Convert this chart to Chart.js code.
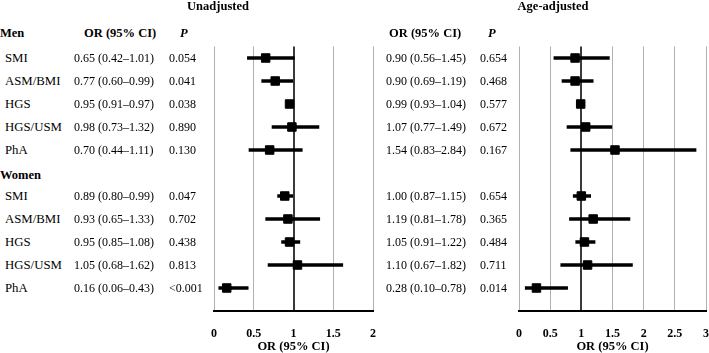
<!DOCTYPE html>
<html>
<head>
<meta charset="utf-8">
<script src="https://cdn.jsdelivr.net/npm/chart.js@4.4.1/dist/chart.umd.min.js"></script>
<style>
  body { margin: 0; background: #fff; }
  #wrap { position: relative; width: 709px; height: 353px; overflow: hidden; font-family: "Liberation Serif", serif; color: #000; }
  canvas { position: absolute; top: 0; }
  .t { position: absolute; white-space: nowrap; font-size: 12px; line-height: 14px; }
  .lab { font-size: 12.8px; }
  .b { font-weight: bold; font-size: 12.5px; }
  .i { font-style: italic; font-weight: bold; font-size: 12.5px; }
</style>
</head>
<body>
<div id="wrap">
  <canvas id="left" width="199" height="353" style="left:194px"></canvas>
  <canvas id="right" width="227" height="353" style="left:499px"></canvas>
</div>
<script>
const measures = ["SMI", "ASM/BMI", "HGS", "HGS/USM", "PhA", "SMI", "ASM/BMI", "HGS", "HGS/USM", "PhA"];
const rowPos = [0, 1, 2, 3, 4, 6, 7, 8, 9, 10];

// unadjusted
const orU = [0.65, 0.77, 0.95, 0.98, 0.70, 0.89, 0.93, 0.95, 1.05, 0.16];
const loU = [0.42, 0.60, 0.91, 0.73, 0.44, 0.80, 0.65, 0.85, 0.68, 0.06];
const hiU = [1.01, 0.99, 0.97, 1.32, 1.11, 0.99, 1.33, 1.08, 1.62, 0.43];
const pU = ["0.054", "0.041", "0.038", "0.890", "0.130", "0.047", "0.702", "0.438", "0.813", "<0.001"];

// age-adjusted
const orA = [0.90, 0.90, 0.99, 1.07, 1.54, 1.00, 1.19, 1.05, 1.10, 0.28];
const loA = [0.56, 0.69, 0.93, 0.77, 0.83, 0.87, 0.81, 0.91, 0.67, 0.10];
const hiA = [1.45, 1.19, 1.04, 1.49, 2.84, 1.15, 1.78, 1.22, 1.82, 0.78];
const pA = ["0.654", "0.468", "0.577", "0.672", "0.167", "0.654", "0.365", "0.484", "0.711", "0.014"];

const xTicksU = [0, 0.5, 1, 1.5, 2];
const xTicksA = [0, 0.5, 1, 1.5, 2, 2.5, 3];

const font = "Liberation Serif";

function forest(id, or, lo, hi, ticks) {
  return new Chart(document.getElementById(id), {
    data: {
      datasets: [
        {
          type: "scatter",
          data: or.map((v, i) => ({ x: v, y: rowPos[i] })),
          pointStyle: "rect",
          pointRadius: 6,
          backgroundColor: "#000",
          borderColor: "#000",
          borderWidth: 1,
          order: 0
        },
        {
          type: "bar",
          indexAxis: "y",
          data: lo.map((v, i) => ({ x: [v, hi[i]], y: rowPos[i] })),
          backgroundColor: "#000",
          barThickness: 3,
          order: 1
        }
      ]
    },
    options: {
      responsive: false,
      animation: false,
      // side padding wider than label overhang + tick padding
      layout: { padding: { left: 20, right: 20, top: 46.5, bottom: 0 } },
      plugins: { legend: { display: false }, tooltip: { enabled: false } },
      scales: {
        x: {
          type: "linear",
          min: 0,
          max: ticks[ticks.length - 1],
          afterBuildTicks: s => { s.ticks = ticks.map(v => ({ value: v })); },
          afterFit: s => { s.height = 42; },
          ticks: {
            color: "#000",
            font: { family: font, size: 12, weight: "bold" },
            padding: 16,
            callback: v => String(v)
          },
          grid: {
            drawTicks: false,
            color: c => (c.tick && c.tick.value === 1 ? "#3a3a3a" : "#b0b0b0"),
            lineWidth: c => (c.tick && c.tick.value === 1 ? 2 : 1)
          },
          border: { color: "#000", width: 2 },
          title: {
            display: true,
            text: "OR (95% CI)",
            color: "#000",
            font: { family: font, size: 12.5, weight: "bold" },
            padding: { top: 0, bottom: -1 }
          }
        },
        y: { type: "linear", min: -0.5, max: 11, reverse: true, offset: false, display: false }
      }
    }
  });
}

const chartU = forest("left", orU, loU, hiU, xTicksU);
const chartA = forest("right", orA, loA, hiA, xTicksA);

const wrap = document.getElementById("wrap");
function txt(s, x, y, cls, center) {
  const d = document.createElement("div");
  d.className = "t " + (cls || "");
  d.textContent = s;
  d.style.left = x + "px";
  d.style.top = (y - 7) + "px";
  if (center) d.style.transform = "translateX(-50%)";
  wrap.appendChild(d);
}

const ys = chartU.scales.y;
const rowY = v => ys.getPixelForValue(v);

const ci = (o, l, h, i) => o[i].toFixed(2) + " (" + l[i].toFixed(2) + "\u2013" + h[i].toFixed(2) + ")";

txt("Unadjusted", 218, 6, "b", true);
txt("Age-adjusted", 553, 6, "b", true);
txt("Men", 0, rowY(-1.1), "b");
txt("Women", 0, rowY(5.1), "b");
txt("OR (95% CI)", 84, rowY(-1.1), "b");
txt("P", 180, rowY(-1.1), "i");
txt("OR (95% CI)", 389, rowY(-1.1), "b");
txt("P", 488, rowY(-1.1), "i");

measures.forEach((m, i) => {
  const y = rowY(rowPos[i]);
  txt(m, 5, y, "lab");
  txt(ci(orU, loU, hiU, i), 74, y);
  txt(pU[i], 169, y);
  txt(ci(orA, loA, hiA, i), 386, y);
  txt(pA[i], 480, y);
});
</script>
</body>
</html>
